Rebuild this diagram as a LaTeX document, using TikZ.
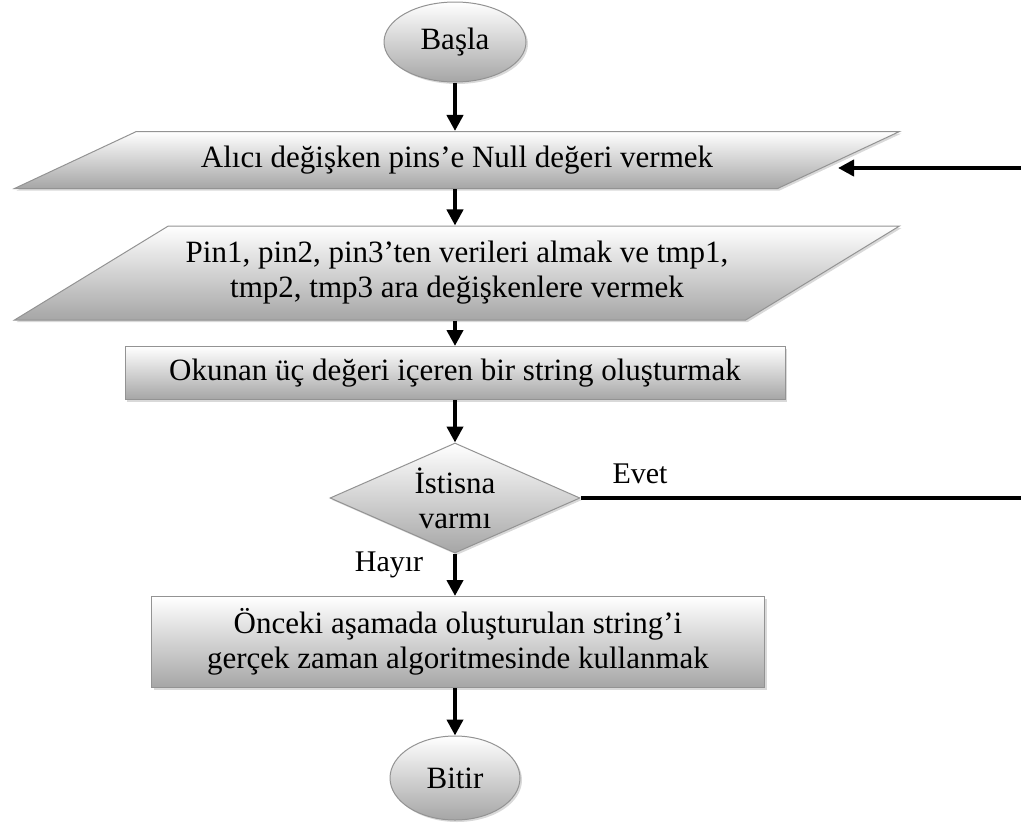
\documentclass[tikz,border=0pt]{standalone}
\usepackage{fontspec}
\setmainfont{Liberation Serif}
\usetikzlibrary{shapes.geometric,arrows.meta,shadows}
\begin{document}
\begin{tikzpicture}[x=1pt,y=-1pt,
  box/.style={draw=gray!85, line width=1pt, top color=white, bottom color=gray!70,
    drop shadow={opacity=0.3,shadow xshift=2pt,shadow yshift=-2pt},
    font=\fontsize{31}{35}\selectfont, align=center, inner sep=2pt},
  lbl/.style={font=\fontsize{30}{34}\selectfont, inner sep=0pt},
  arr/.style={line width=4pt, -{Triangle[length=16pt,width=16pt]}},
]
\useasboundingbox (0,0) rectangle (1021,836);

\node[box, ellipse, minimum width=142pt, minimum height=80pt] (start) at (455,42) {Başla};
\node[box, trapezium, trapezium left angle=14.8, trapezium right angle=165.2,
  trapezium stretches body, minimum width=885pt, minimum height=57pt] (p1) at (457,160)
  {Alıcı değişken pins’e Null değeri vermek};
\node[box, trapezium, trapezium left angle=23.6, trapezium right angle=156.4,
  trapezium stretches body, minimum width=885pt, minimum height=94pt] (p2) at (457,273)
  {Pin1, pin2, pin3’ten verileri almak ve tmp1,\\tmp2, tmp3 ara değişkenlere vermek};
\node[box, rectangle, minimum width=660pt, minimum height=53pt] (r1) at (455,373)
  {Okunan üç değeri içeren bir string oluşturmak};
\node[box, diamond, aspect=2.27, inner sep=0pt, minimum width=250pt, minimum height=110pt] (d) at (455,498)
  {İstisna\\varmı};
\node[box, rectangle, minimum width=613pt, minimum height=91pt] (r2) at (458,642)
  {Önceki aşamada oluşturulan string’i\\gerçek zaman algoritmesinde kullanmak};
\node[box, ellipse, minimum width=130pt, minimum height=84pt] (stop) at (455,778) {Bitir};

\node[lbl] (evet) at (640,474) {Evet};
\node[lbl] (hayir) at (389,565) {Hayır};

\coordinate (eR) at (1021,498);
\coordinate (aR) at (1021,168);
\coordinate (aT) at (838,168);

\draw[arr] (start.south) -- (start.south |- p1.north);
\draw[arr] (start.south |- p1.south) -- (start.south |- p2.north);
\draw[arr] (start.south |- p2.south) -- (r1.north);
\draw[arr] (r1.south) -- (d.north);
\draw[arr] (d.south) -- (d.south |- r2.north);
\draw[arr] (d.south |- r2.south) -- (stop.north);
\draw[line width=4pt] (d.east) -- (eR);
\draw[arr] (aR) -- (aT);
\end{tikzpicture}
\end{document}
